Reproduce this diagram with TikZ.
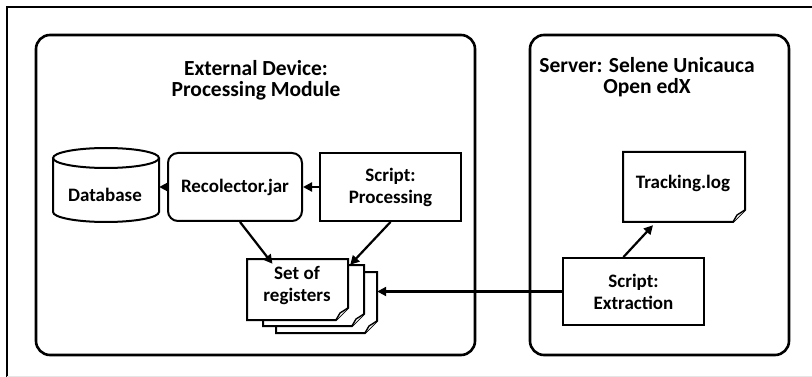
\documentclass[tikz,border=0pt]{standalone}
\usepackage{fontspec}
\setmainfont{Carlito}
\usetikzlibrary{arrows.meta,calc}
\newcommand\mydocshape[4]{%
  \filldraw[fill=white,boxline] (#1,#2) -- (#3,#2) -- (#3,#4-12) -- (#3-12,#4) -- (#1,#4) -- cycle;
  \filldraw[fill=white,line width=1.4pt,line join=round] (#3-12,#4) -- (#3-8,#4-7) -- (#3,#4-12);
}
\begin{document}
\begin{tikzpicture}[x=1pt,y=-1pt,
  boxline/.style={line width=2pt,line join=miter},
  panel/.style={draw,line width=2.6pt,rounded corners=14pt,inner sep=0pt},
  titletext/.style={font=\bfseries\fontsize{21.5}{21}\selectfont,align=center,inner sep=0pt},
  nodetext/.style={font=\bfseries\fontsize{19}{22}\selectfont,align=center,inner sep=0pt},
  stepbox/.style={draw,boxline,nodetext,fill=white},
  ghost/.style={inner sep=0pt},
  arr/.style={line width=2.2pt,-{Triangle[length=9pt,width=9pt]}},
]
\useasboundingbox (0,0) rectangle (812,377);
\clip (0,0) rectangle (812,377);
% outer frame
\coordinate (fbl) at (7,400);
\coordinate (ftl) at (7,7);
\coordinate (ftr) at (830,7);
\draw[line width=2.4pt] (fbl) -- (ftl) -- (ftr);
\coordinate (gl) at (7,376);
\coordinate (gr) at (812,376);
\draw[gray!20,line width=1pt] (gl) -- (gr);
% panels
\node[panel,minimum width=439pt,minimum height=320pt] (left) at (255.5,195) {};
\node[panel,minimum width=259pt,minimum height=320pt] (right) at (659.5,195) {};
\node[titletext] (lt) at (256,80) {External Device:\\Processing Module};
\node[titletext] (rt) at (647,77) {Server: Selene Unicauca\\Open edX};
% database cylinder
\node[ghost,minimum width=106pt,minimum height=74pt] (db) at (106,185) {};
\filldraw[fill=white,boxline] (53,158) -- (53,212)
  arc[start angle=180,end angle=360,x radius=53pt,y radius=10pt] -- (159,158);
\draw[boxline] (106,158) ellipse[x radius=53pt,y radius=10pt];
\node[nodetext] (dbtext) at (105,195) {Database};
% boxes
\node[stepbox,rounded corners=10pt,minimum width=134pt,minimum height=68pt] (rec) at (235,187) {Recolector.jar};
\node[stepbox,minimum width=141pt,minimum height=68pt] (proc) at (390.5,187) {Script:\\Processing};
\node[stepbox,minimum width=141pt,minimum height=67pt] (ext) at (633.5,291.5) {Script:\\Extraction};
% tracking log
\mydocshape{623}{152}{745}{222}
\node[ghost,minimum width=122pt,minimum height=70pt] (trk) at (684,187) {};
\node[nodetext] (trktext) at (683,183) {Tracking.log};
% set of registers
\mydocshape{276}{272}{377}{333}
\mydocshape{263}{265}{364}{326}
\mydocshape{247}{259}{348}{320}
\node[ghost,minimum width=101pt,minimum height=61pt] (set) at (297.5,289.5) {};
\node[ghost,minimum width=101pt,minimum height=61pt] (set3) at (326.5,302.5) {};
\node[nodetext] (settext) at (297,286) {Set of\\registers};
% arrows
\draw[arr] (rec.west) -- (rec.west -| db.east);
\draw[arr] (proc.west) -- (rec.east);
\draw[arr] ([xshift=5pt]rec.south) -- ([xshift=-25pt,yshift=-5pt]set.north);
\draw[arr] (proc.south) -- ([xshift=2pt,yshift=-6pt]set.north east);
\draw[arr] (ext.west) -- (ext.west -| set3.east);
\draw[arr] ([xshift=-10pt]ext.north) -- ([xshift=-31pt,yshift=-3pt]trk.south);
\end{tikzpicture}
\end{document}
